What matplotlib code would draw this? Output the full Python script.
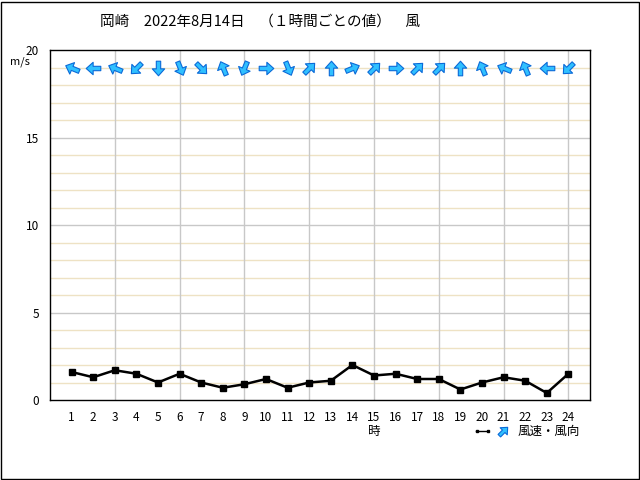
import matplotlib
matplotlib.use("Agg")
import matplotlib.pyplot as plt
import numpy as np
from matplotlib.path import Path
from matplotlib.markers import MarkerStyle
from matplotlib.transforms import Affine2D
from matplotlib.lines import Line2D
from matplotlib.patches import Rectangle

plt.rcParams['font.family'] = ['Noto Sans CJK JP', 'DejaVu Sans']

hours = list(range(1, 25))
speed = [1.6, 1.3, 1.7, 1.5, 1.0, 1.5, 1.0, 0.7, 0.9, 1.2, 0.7, 1.0,
         1.1, 2.0, 1.4, 1.5, 1.2, 1.2, 0.6, 1.0, 1.3, 1.1, 0.4, 1.5]
direction = ['ESE', 'E', 'ESE', 'NE', 'N', 'NNW', 'NW', 'SSE', 'NNE', 'W', 'NNW', 'SW',
             'S', 'WSW', 'SW', 'W', 'SW', 'SW', 'S', 'SSE', 'ESE', 'SSE', 'E', 'NE']
title = '岡崎　2022年8月14日　（１時間ごとの値）　風'
compass = ['N', 'NNE', 'NE', 'ENE', 'E', 'ESE', 'SE', 'SSE',
           'S', 'SSW', 'SW', 'WSW', 'W', 'WNW', 'NW', 'NNW']

arrow_verts = [(-0.3, -1.0), (-0.3, 0.05), (-0.85, 0.05), (0.0, 1.0), (0.85, 0.05),
               (0.3, 0.05), (0.3, -1.0), (-0.3, -1.0)]
arrow_codes = [Path.MOVETO] + [Path.LINETO] * 6 + [Path.CLOSEPOLY]
arrow_path = Path(arrow_verts, arrow_codes)

def arrow_marker(bearing):
    return MarkerStyle(arrow_path, transform=Affine2D().rotate_deg(-bearing))

ARROW_FACE = '#30c0ff'
ARROW_EDGE = '#0a6ad8'

fig = plt.figure(figsize=(6.4, 4.8), dpi=100)
fig.patch.set_facecolor('white')
fig.add_artist(Rectangle((1.0/640, 1.0/480), 637.5/640, 477.5/480, transform=fig.transFigure,
                         fill=False, edgecolor='black', linewidth=1.0))
ax = fig.add_axes([50/640, 80/480, 540/640, 350/480])
ax.set_xlim(0, 25)
ax.set_ylim(0, 20)

for y in range(1, 20):
    col = '#c8c8c8' if y % 5 == 0 else '#eee2c4'
    ax.axhline(y, color=col, linewidth=1, zorder=0)
for x in range(3, 25, 3):
    ax.axvline(x, color='#c8c8c8', linewidth=1, zorder=0)

ax.plot(hours, speed, color='black', linewidth=1.8, marker='s', markersize=5, zorder=3)

arrow_y = 19
for h, d in zip(hours, direction):
    bearing = (compass.index(d) * 22.5 + 180) % 360
    ax.plot([h], [arrow_y], marker=arrow_marker(bearing), markersize=10.5,
            markerfacecolor=ARROW_FACE, markeredgecolor=ARROW_EDGE, markeredgewidth=0.8,
            linestyle='none', zorder=4)

ax.set_xticks(hours)
ax.set_xticklabels([str(h) for h in hours], fontsize=8.5)
ax.set_yticks([0, 5, 10, 15, 20])
ax.set_yticklabels(['0', '5', '10', '15', '20'], fontsize=8.5)
ax.tick_params(length=0, pad=8)
for s in ax.spines.values():
    s.set_linewidth(1)
    s.set_color('black')

fig.text(100/640, 1 - 22/480, title, fontsize=10.5, va='center', ha='left')
fig.text(10/640, 1 - 62/480, 'm/s', fontsize=8, va='center', ha='left')
fig.text(ax.transData.transform((15, 0))[0] / 640, 1 - 432/480, '時', fontsize=9,
         va='center', ha='center')

# legend
ly = 1 - 431/480
fig.add_artist(Line2D([476/640, 488/640], [ly, ly], transform=fig.transFigure,
                      color='black', linewidth=1.0))
fig.add_artist(Line2D([476.5/640, 487.5/640], [ly, ly], transform=fig.transFigure, color='black',
                      marker='s', markersize=2, linestyle='none'))
fig.add_artist(Line2D([503/640], [ly], transform=fig.transFigure, marker=arrow_marker(45),
                      markersize=8.5, markerfacecolor=ARROW_FACE, markeredgecolor=ARROW_EDGE,
                      markeredgewidth=0.8, linestyle='none'))
fig.text(518/640, ly, '風速・風向', fontsize=9, va='center', ha='left')

fig.savefig('out.png', dpi=100)
